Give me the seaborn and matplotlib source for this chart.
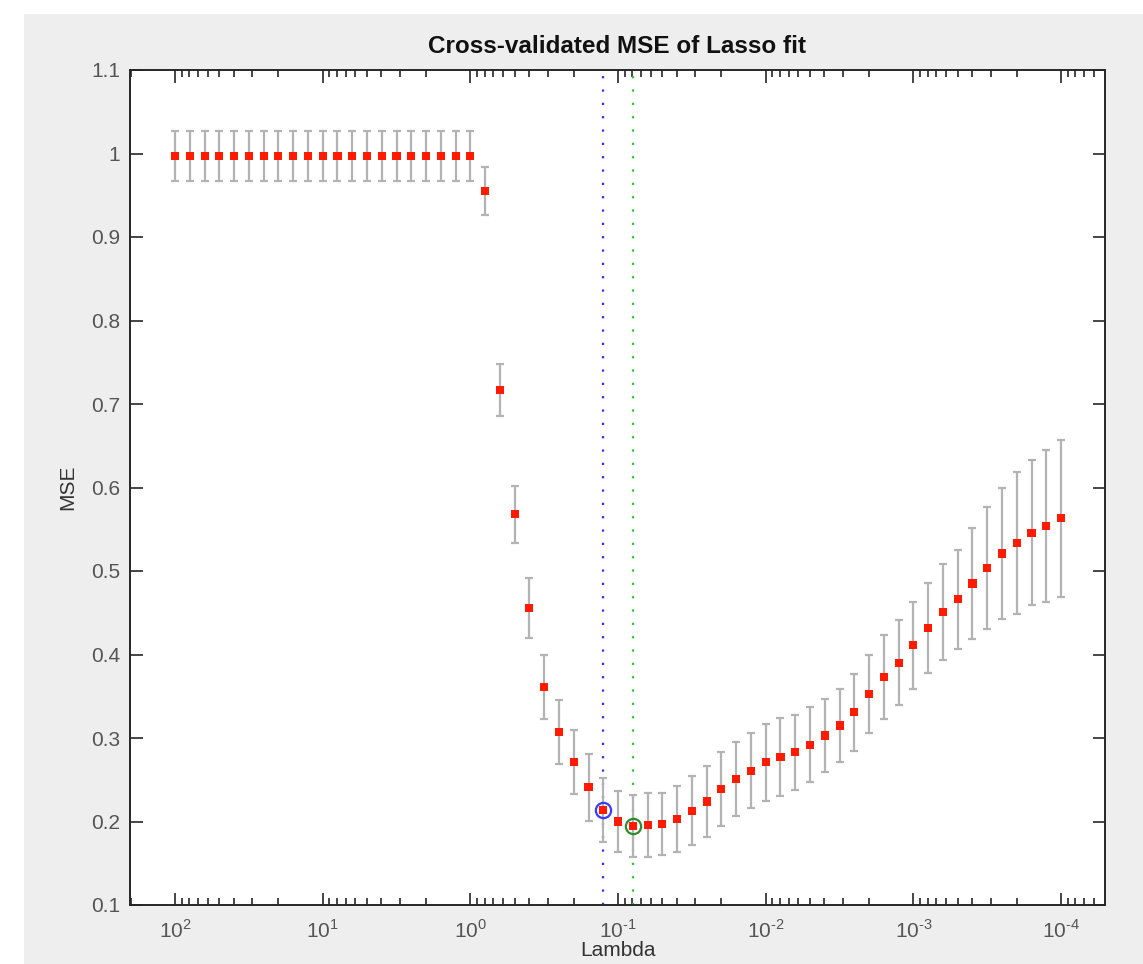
"""
plot.py

Cross-validated MSE of a Lasso fit against Lambda (MATLAB lassoPlot look-alike).
"""

import numpy as np
import pandas as pd
import matplotlib
matplotlib.use('Agg')
import matplotlib.pyplot as plt
from matplotlib.patches import Rectangle
from matplotlib.ticker import LogLocator, FixedLocator
import seaborn as sns


# log10(Lambda) grid, 61 values from 10^2 down to 10^-4
LOG_LAMBDA = [
    2.0, 1.9, 1.8, 1.7, 1.6, 1.5, 1.4, 1.3, 1.2, 1.1,
    1.0, 0.9, 0.8, 0.7, 0.6, 0.5, 0.4, 0.3, 0.2, 0.1,
    0.0, -0.1, -0.2, -0.3, -0.4, -0.5, -0.6, -0.7, -0.8, -0.9,
    -1.0, -1.1, -1.2, -1.3, -1.4, -1.5, -1.6, -1.7, -1.8, -1.9,
    -2.0, -2.1, -2.2, -2.3, -2.4, -2.5, -2.6, -2.7, -2.8, -2.9,
    -3.0, -3.1, -3.2, -3.3, -3.4, -3.5, -3.6, -3.7, -3.8, -3.9,
    -4.0,
]

MSE = [
    0.997, 0.997, 0.997, 0.997, 0.997, 0.997, 0.997, 0.997, 0.997, 0.997,
    0.997, 0.997, 0.997, 0.997, 0.997, 0.997, 0.997, 0.997, 0.997, 0.997,
    0.997, 0.955, 0.717, 0.568, 0.456, 0.361, 0.307, 0.271, 0.241, 0.214,
    0.200, 0.195, 0.196, 0.197, 0.203, 0.213, 0.224, 0.239, 0.251, 0.261,
    0.271, 0.277, 0.283, 0.292, 0.303, 0.315, 0.331, 0.353, 0.373, 0.390,
    0.411, 0.432, 0.451, 0.466, 0.485, 0.504, 0.521, 0.534, 0.546, 0.554,
    0.563,
]

SE = [
    0.030, 0.030, 0.030, 0.030, 0.030, 0.030, 0.030, 0.030, 0.030, 0.030,
    0.030, 0.030, 0.030, 0.030, 0.030, 0.030, 0.030, 0.030, 0.030, 0.030,
    0.030, 0.029, 0.031, 0.034, 0.036, 0.038, 0.038, 0.038, 0.040, 0.038,
    0.037, 0.037, 0.038, 0.037, 0.039, 0.041, 0.042, 0.044, 0.044, 0.045,
    0.046, 0.047, 0.045, 0.045, 0.044, 0.044, 0.046, 0.047, 0.050, 0.051,
    0.052, 0.054, 0.057, 0.059, 0.066, 0.073, 0.079, 0.085, 0.087, 0.091,
    0.094,
]

TITLE = 'Cross-validated MSE of Lasso fit'
XLABEL = 'Lambda'
YLABEL = 'MSE'
XTICK_LABELS = [r'$10^{2}$', r'$10^{1}$', r'$10^{0}$', r'$10^{\text{-}1}$',
                r'$10^{\text{-}2}$', r'$10^{\text{-}3}$', r'$10^{\text{-}4}$']
YTICK_LABELS = ['0.1', '0.2', '0.3', '0.4', '0.5', '0.6', '0.7', '0.8',
                '0.9', '1', '1.1']

BG = '#eeeeee'
FONT = ['Liberation Sans', 'DejaVu Sans']


def build_frame():
    df = pd.DataFrame({'log_lambda': LOG_LAMBDA, 'mse': MSE, 'se': SE})
    df['lambda'] = 10.0 ** df['log_lambda']
    return df


def pick_lambdas(df):
    # minimum MSE, then the largest lambda within one SE of that minimum
    i_min = df['mse'].idxmin()
    limit = df.loc[i_min, 'mse'] + df.loc[i_min, 'se']
    i_1se = df.index[(df['mse'] <= limit) & (df['lambda'] >= df.loc[i_min, 'lambda'])][0]
    return i_min, i_1se


def main():
    df = build_frame()
    i_min, i_1se = pick_lambdas(df)

    sns.set_style('ticks')
    plt.rcParams['font.family'] = FONT
    plt.rcParams['mathtext.fontset'] = 'custom'
    plt.rcParams['mathtext.rm'] = 'Liberation Sans'

    fig = plt.figure(figsize=(11.43, 9.64), dpi=100, facecolor='white')
    # grey MATLAB figure window, offset like the screenshot
    fig.patches.append(Rectangle((24 / 1143, 0), 1, (964 - 14) / 964,
                                 transform=fig.transFigure, facecolor=BG,
                                 edgecolor='none', zorder=-10))
    ax = fig.add_axes([130 / 1143, (964 - 905) / 964,
                       (1105 - 130) / 1143, (905 - 70) / 964])
    ax.set_facecolor('white')

    ax.errorbar(df['lambda'], df['mse'], yerr=df['se'], fmt='none',
                ecolor='#b3b3b3', elinewidth=1.6, capsize=3, capthick=1.6,
                zorder=2)
    sns.scatterplot(data=df, x='lambda', y='mse', ax=ax, marker='s', s=34,
                    color='#ff1a00', edgecolor='none', zorder=3, legend=False)

    lam_1se = df.loc[i_1se, 'lambda']
    lam_min = df.loc[i_min, 'lambda']
    ax.axvline(lam_1se, color='#2b2bff', linestyle=(0, (1, 5)), linewidth=1.6, zorder=1)
    ax.axvline(lam_min, color='#22cc22', linestyle=(0, (1, 5)), linewidth=1.6, zorder=1)
    ax.plot(lam_1se, df.loc[i_1se, 'mse'], 'o', markersize=11, markerfacecolor='none',
            markeredgecolor='#3b3bff', markeredgewidth=1.6, zorder=4)
    ax.plot(lam_min, df.loc[i_min, 'mse'], 'o', markersize=11, markerfacecolor='none',
            markeredgecolor='#2e8b2e', markeredgewidth=1.6, zorder=4)

    ax.set_xscale('log')
    ax.set_xlim(201.8, 5.04e-5)
    ax.set_ylim(0.1, 1.1)
    ax.xaxis.set_major_locator(FixedLocator([1e2, 1e1, 1e0, 1e-1, 1e-2, 1e-3, 1e-4]))
    ax.xaxis.set_minor_locator(LogLocator(base=10, subs=np.arange(2, 10), numticks=20))
    ax.set_xticklabels(XTICK_LABELS)
    ax.set_yticks(np.round(np.arange(0.1, 1.11, 0.1), 1))
    ax.set_yticklabels(YTICK_LABELS)

    ax.tick_params(which='both', direction='in', top=True, right=True,
                   colors='#262626', width=1.2)
    ax.tick_params(which='major', length=9, labelsize=15, labelcolor='#555555')
    ax.tick_params(axis='y', which='major', pad=7)
    ax.tick_params(axis='x', which='major', pad=10)
    ax.tick_params(which='minor', length=5)
    for s in ax.spines.values():
        s.set_linewidth(1.4)
        s.set_color('#262626')

    ax.set_xlabel(XLABEL, fontsize=15, color='#333333', labelpad=0)
    ax.set_ylabel(YLABEL, fontsize=15, color='#333333', labelpad=10)
    ax.set_title(TITLE, fontsize=17.5, fontweight='bold', color='#111111', pad=12)

    fig.savefig('out.png', dpi=100, facecolor=fig.get_facecolor())


if __name__ == '__main__':
    main()
